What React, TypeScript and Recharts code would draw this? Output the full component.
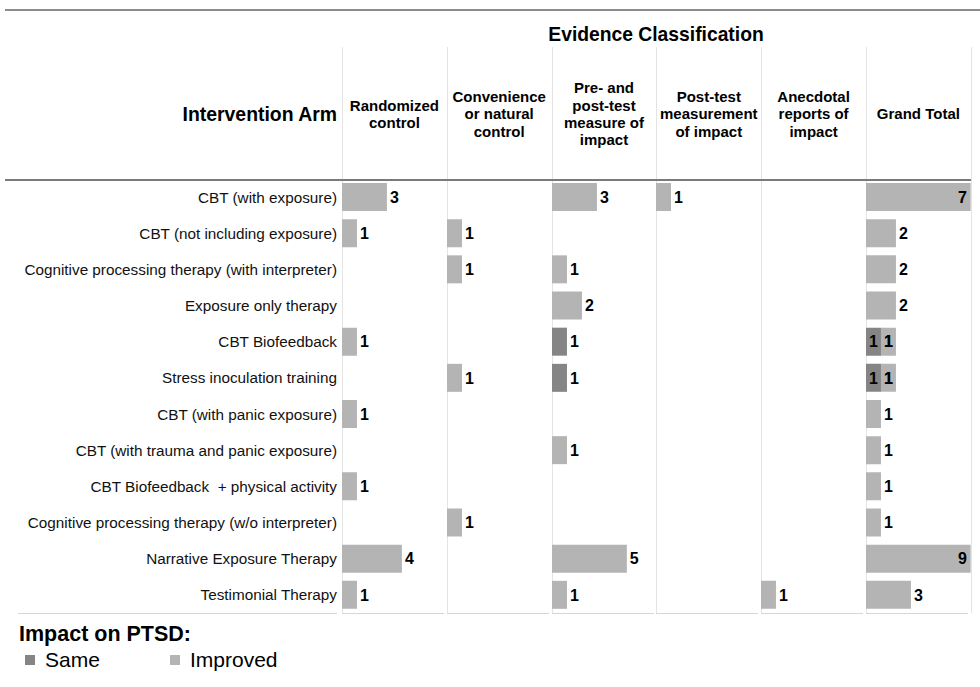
import React from 'react';
import { BarChart, Bar, XAxis, YAxis, LabelList } from 'recharts';

const FONT = '"Liberation Sans", Arial, Helvetica, sans-serif';
const SAME_COLOR = '#858585';
const IMPROVED_COLOR = '#b4b4b4';

const interventions = [
  'CBT (with exposure)',
  'CBT (not including exposure)',
  'Cognitive processing therapy (with interpreter)',
  'Exposure only therapy',
  'CBT Biofeedback',
  'Stress inoculation training',
  'CBT (with panic exposure)',
  'CBT (with trauma and panic exposure)',
  'CBT Biofeedback\u00A0 + physical activity',
  'Cognitive processing therapy (w/o interpreter)',
  'Narrative Exposure Therapy',
  'Testimonial Therapy',
];

const columnHeaders = [
  ['Randomized', 'control'],
  ['Convenience', 'or natural', 'control'],
  ['Pre- and', 'post-test', 'measure of', 'impact'],
  ['Post-test', 'measurement', 'of impact'],
  ['Anecdotal', 'reports of', 'impact'],
  ['Grand Total'],
];

const randomizedSame = [0, 0, 0, 0, 0, 0, 0, 0, 0, 0, 0, 0];
const randomizedImproved = [3, 1, 0, 0, 1, 0, 1, 0, 1, 0, 4, 1];
const convenienceSame = [0, 0, 0, 0, 0, 0, 0, 0, 0, 0, 0, 0];
const convenienceImproved = [0, 1, 1, 0, 0, 1, 0, 0, 0, 1, 0, 0];
const prePostSame = [0, 0, 0, 0, 1, 1, 0, 0, 0, 0, 0, 0];
const prePostImproved = [3, 0, 1, 2, 0, 0, 0, 1, 0, 0, 5, 1];
const postTestSame = [0, 0, 0, 0, 0, 0, 0, 0, 0, 0, 0, 0];
const postTestImproved = [1, 0, 0, 0, 0, 0, 0, 0, 0, 0, 0, 0];
const anecdotalSame = [0, 0, 0, 0, 0, 0, 0, 0, 0, 0, 0, 0];
const anecdotalImproved = [0, 0, 0, 0, 0, 0, 0, 0, 0, 0, 0, 1];
const totalSame = [0, 0, 0, 0, 1, 1, 0, 0, 0, 0, 0, 0];
const totalImproved = [7, 2, 2, 2, 1, 1, 1, 1, 1, 1, 9, 3];

const seriesByColumn = [
  [randomizedSame, randomizedImproved],
  [convenienceSame, convenienceImproved],
  [prePostSame, prePostImproved],
  [postTestSame, postTestImproved],
  [anecdotalSame, anecdotalImproved],
  [totalSame, totalImproved],
];

const X0 = 342;
const COL_W = 104.8;
const ROWS_TOP = 179;
const ROWS_H = 434;
const LABEL_W = 342;

type Row = { name: string; same: number; improved: number };

function ValueText({ x, y, anchor, value }: { x: number; y: number; anchor: 'start' | 'middle' | 'end'; value: any }) {
  return (
    <text
      x={x}
      y={y}
      dy="0.36em"
      textAnchor={anchor}
      fontSize={16}
      fontWeight="bold"
      fontFamily={FONT}
      fill="#000"
    >
      {value}
    </text>
  );
}

function makeLabel(series: 'same' | 'improved', data: Row[], plotLeft: number, plotRight: number) {
  return (props: any) => {
    const value = props.value;
    if (!value) return null;
    const vb = props.viewBox || props;
    const x = vb.x;
    const y = vb.y;
    const w = vb.width;
    const h = vb.height;
    let index = props.index;
    if (index === undefined || index === null) {
      index = Math.floor((y + h / 2) / (ROWS_H / data.length));
    }
    const row = data[index];
    const end = Math.min(x + w, plotRight);
    const cy = y + h / 2;
    const stacked = row && row.same > 0 && row.improved > 0;
    if (stacked) {
      if (series === 'same') return null;
      // draw both segment labels, centred inside each segment
      return (
        <g>
          <ValueText x={(plotLeft + x) / 2} y={cy} anchor="middle" value={row.same} />
          <ValueText x={(x + end) / 2} y={cy} anchor="middle" value={value} />
        </g>
      );
    }
    if (end + 14 > plotRight) {
      return <ValueText x={end - 4} y={cy} anchor="end" value={value} />;
    }
    return <ValueText x={end + 3} y={cy} anchor="start" value={value} />;
  };
}

function ColumnChart({ colIndex }: { colIndex: number }) {
  const [sameArr, impArr] = seriesByColumn[colIndex];
  const data: Row[] = interventions.map((name, i) => ({
    name,
    same: sameArr[i],
    improved: impArr[i],
  }));
  const withLabels = colIndex === 0;
  const yW = withLabels ? LABEL_W : 0;
  const left = withLabels ? 0 : X0 + colIndex * COL_W;
  const plotLeft = yW;
  const plotRight = yW + COL_W;
  return (
    <div style={{ position: 'absolute', left, top: ROWS_TOP }}>
      <BarChart
        layout="vertical"
        width={yW + COL_W}
        height={ROWS_H}
        data={data}
        margin={{ top: 0, right: 0, bottom: 0, left: 0 }}
        barCategoryGap={4}
      >
        <XAxis type="number" domain={[0, 7]} hide allowDataOverflow />
        <YAxis
          type="category"
          dataKey="name"
          width={yW}
          hide={!withLabels}
          axisLine={false}
          tickLine={false}
          tickSize={0}
          tickMargin={5}
          interval={0}
          tick={{ fontSize: 15.3, fill: '#111', fontFamily: FONT }}
        />
        <Bar dataKey="same" stackId="a" fill={SAME_COLOR} isAnimationActive={false}>
          <LabelList dataKey="same" content={makeLabel('same', data, plotLeft, plotRight)} />
        </Bar>
        <Bar dataKey="improved" stackId="a" fill={IMPROVED_COLOR} isAnimationActive={false}>
          <LabelList dataKey="improved" content={makeLabel('improved', data, plotLeft, plotRight)} />
        </Bar>
      </BarChart>
    </div>
  );
}

function Overlay() {
  const seps = Array.from({ length: 7 }, (_, k) => Math.round(X0 + k * COL_W) + 0.5);
  return (
    <svg
      width={980}
      height={687}
      style={{ position: 'absolute', left: 0, top: 0 }}
      fontFamily={FONT}
    >
      <rect x={5} y={9} width={975} height={2} fill="#8c8c8c" />
      <text x={656} y={41} textAnchor="middle" fontSize={19.3} fontWeight="bold" fill="#000">
        Evidence Classification
      </text>
      {seps.map((x, k) => (
        <line key={k} x1={x} x2={x} y1={47} y2={613} stroke="#e4e4e4" strokeWidth={1} />
      ))}
      <text x={337} y={121} textAnchor="end" fontSize={19.4} fontWeight="bold" fill="#000">
        Intervention Arm
      </text>
      {columnHeaders.map((lines, k) => {
        const cx = X0 + k * COL_W + COL_W / 2;
        const lh = 17.3;
        const firstCenter = 114 - ((lines.length - 1) * lh) / 2;
        return (
          <text key={k} textAnchor="middle" fontSize={15} fontWeight="bold" fill="#000">
            {lines.map((ln, j) => (
              <tspan key={j} x={cx} y={firstCenter + j * lh + 5.4}>
                {ln}
              </tspan>
            ))}
          </text>
        );
      })}
      <rect x={5} y={179} width={966} height={2} fill="#7a7a7a" />
      <line x1={18} x2={337} y1={613.5} y2={613.5} stroke="#d6d6d6" strokeWidth={1} />
      {columnHeaders.map((_, k) => {
        const l = Math.round(X0 + k * COL_W);
        return (
          <line key={k} x1={l} x2={l + 102} y1={613.5} y2={613.5} stroke="#d6d6d6" strokeWidth={1} />
        );
      })}
      <text x={19} y={641} fontSize={21.5} fontWeight="bold" fill="#000">
        Impact on PTSD:
      </text>
      <rect x={25} y={655} width={10} height={10} fill={SAME_COLOR} />
      <text x={45} y={667} fontSize={21} fill="#000">
        Same
      </text>
      <rect x={170} y={655} width={10} height={10} fill={IMPROVED_COLOR} />
      <text x={190} y={667} fontSize={21} fill="#000">
        Improved
      </text>
    </svg>
  );
}

export default function App() {
  return (
    <div
      style={{
        position: 'absolute',
        left: 0,
        top: 0,
        width: 980,
        height: 687,
        background: '#fff',
        overflow: 'hidden',
        fontFamily: FONT,
      }}
    >
      <Overlay />
      {columnHeaders.map((_, k) => (
        <ColumnChart key={k} colIndex={k} />
      ))}
    </div>
  );
}
